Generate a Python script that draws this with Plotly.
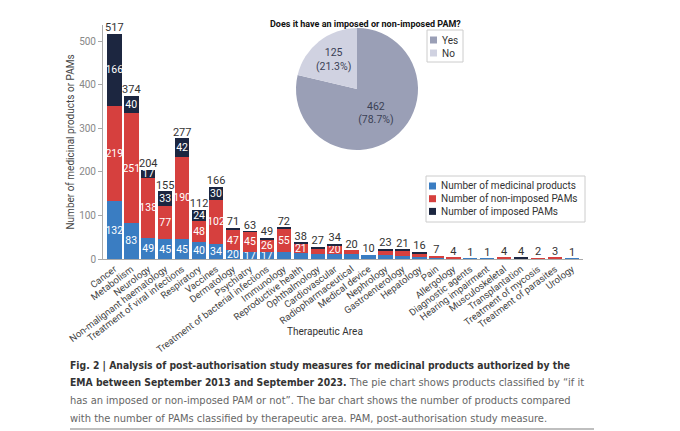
import plotly.graph_objects as go

areas = ["Cancer", "Metabolism", "Neurology", "Non-malignant haematology",
         "Treatment of viral infections", "Respiratory", "Vaccines", "Dermatology",
         "Psychiatry", "Treatment of bacterial infections", "Immunology",
         "Reproductive health", "Ophthalmology", "Cardiovascular",
         "Radiopharmaceutical", "Medical device", "Nephrology", "Gastroenterology",
         "Hepatology", "Pain", "Allergology", "Diagnostic agents",
         "Hearing impairment", "Musculoskeletal", "Transplantation",
         "Treatment of mycosis", "Treatment of parasites", "Urology"]
products = [132, 83, 49, 45, 45, 40, 34, 20, 17, 17, 15, 14, 12, 12, 11, 10, 9, 8, 5, 4, 1, 1, 1, 1, 1, 1, 1, 1]
non_imposed = [219, 251, 138, 77, 190, 48, 102, 47, 45, 26, 55, 21, 11, 20, 9, 0, 11, 12, 6, 3, 3, 0, 0, 3, 0, 1, 2, 0]
imposed = [166, 40, 17, 33, 42, 24, 30, 4, 1, 6, 2, 3, 4, 2, 0, 0, 3, 1, 5, 0, 0, 0, 0, 0, 3, 0, 0, 0]
totals = [517, 374, 204, 155, 277, 112, 166, 71, 63, 49, 72, 38, 27, 34, 20, 10, 23, 21, 16, 7, 4, 1, 1, 4, 4, 2, 3, 1]

pie_labels = ["Yes", "No"]
pie_values = [462, 125]
pie_colors = ["#9a9fb6", "#d0d2e1"]

series_names = ["Number of medicinal products", "Number of non-imposed PAMs", "Number of imposed PAMs"]
series_colors = ["#3a7dc2", "#d6403e", "#1c2640"]

FONT = "Roboto, sans-serif"
# the page body adds an 8px margin, so the figure is a bit smaller than the window
OFF = 8
W, H = 680 - OFF, 431 - OFF


def px(x, y):
    # window pixel position -> paper coordinates
    return (x - OFF) / W, 1 - (y - OFF) / H


def lbl(vals):
    # only the larger segments carry a number
    return [str(v) if v >= 17 else "" for v in vals]


fig = go.Figure()
for name, vals, col in zip(series_names, [products, non_imposed, imposed], series_colors):
    fig.add_trace(go.Bar(
        x=areas, y=vals, name=name, marker=dict(color=col, line=dict(width=0)),
        text=lbl(vals), textposition="inside", insidetextanchor="middle",
        constraintext="none", textangle=0,
        textfont=dict(color="white", size=10.5, family=FONT),
        showlegend=False, hoverinfo="skip"))

fig.add_trace(go.Scatter(
    x=areas, y=totals, mode="text", text=[str(t) for t in totals],
    textposition="top center", textfont=dict(color="#333333", size=11, family=FONT),
    showlegend=False, hoverinfo="skip", cliponaxis=False))

px0, py0 = px(296, 150)
px1, py1 = px(418, 28)
fig.add_trace(go.Pie(
    labels=pie_labels, values=pie_values, sort=False, direction="clockwise",
    marker=dict(colors=pie_colors, line=dict(width=0)),
    texttemplate="%{value}<br>(%{percent:.1%})", textposition="inside",
    insidetextorientation="horizontal",
    textfont=dict(color="#3a3f55", size=10.5, family=FONT),
    domain=dict(x=[px0, px1], y=[py0, py1]),
    showlegend=False, hoverinfo="skip"))

ax0, ay0 = px(103, 259)
ax1, ay1 = px(583, 25)
fig.update_layout(
    width=W, height=H, barmode="stack", bargap=0.15,
    paper_bgcolor="white", plot_bgcolor="white",
    margin=dict(l=0, r=0, t=0, b=0),
    font=dict(family=FONT, color="#444444"),
    xaxis=dict(domain=[ax0, ax1], range=[-0.67, 27.65], tickangle=-37,
               tickfont=dict(size=9.5, color="#444444"), showline=True,
               linecolor="#aaaaaa", linewidth=1, ticks="", showgrid=False,
               automargin=False),
    yaxis=dict(domain=[ay0, ay1], range=[0, 537],
               tickvals=[0, 100, 200, 300, 400, 500],
               tickfont=dict(size=10, color="#888888"), showline=True,
               linecolor="#aaaaaa", linewidth=1, ticks="outside", ticklen=4,
               tickcolor="#aaaaaa", showgrid=False, zeroline=False, automargin=False,
               title=dict(text="Number of medicinal products or PAMs",
                          font=dict(size=10, color="#444444"), standoff=2)),
)

x, y = px(325, 339)
fig.add_annotation(text="Therapeutic Area", x=x, y=y, xref="paper", yref="paper",
                   showarrow=False, font=dict(size=10, color="#333333", family=FONT))

x, y = px(365, 17)
fig.add_annotation(text="<b>Does it have an imposed or non-imposed PAM?</b>",
                   x=x, y=y, xref="paper", yref="paper",
                   showarrow=False, font=dict(size=9, color="#111111", family=FONT))


def legend_box(x0, y0, x1, y1, names, colors, first_y, step):
    a, b = px(x0, y0)
    c, d = px(x1, y1)
    fig.add_shape(type="rect", xref="paper", yref="paper", x0=a, y0=b, x1=c, y1=d,
                  line=dict(color="#cccccc", width=1), fillcolor="white")
    for i, (n, col) in enumerate(zip(names, colors)):
        yc = first_y + step * i
        a, b = px(x0 + 3, yc - 3.5)
        c, d = px(x0 + 10, yc + 3.5)
        fig.add_shape(type="rect", xref="paper", yref="paper", x0=a, y0=b, x1=c, y1=d,
                      line=dict(width=0), fillcolor=col)
        tx, ty = px(x0 + 13, yc)
        fig.add_annotation(text=n, x=tx, y=ty, xref="paper", yref="paper",
                           xanchor="left", yanchor="middle", showarrow=False,
                           font=dict(size=10, color="#333333", family=FONT))


legend_box(426, 176, 585, 222, series_names, series_colors, 186, 12.7)
legend_box(427, 30, 463, 62, pie_labels, pie_colors, 40, 13)

CAP = "DejaVu Sans Condensed, sans-serif"
BOLD = "<span style='font-size:10.3px'><b>%s</b></span>"
GREY = "<span style='color:#666666'>%s</span>"
caption = [
    BOLD % "Fig. 2 | Analysis of post-authorisation study measures for medicinal products authorized by the",
    BOLD % "EMA between September 2013 and September 2023." + " " + GREY % "The pie chart shows products classified by “if it",
    GREY % "has an imposed or non-imposed PAM or not”. The bar chart shows the number of products compared",
    GREY % "with the number of PAMs classified by therapeutic area. PAM, post-authorisation study measure.",
]
for i, line in enumerate(caption):
    x, y = px(68, 365 + 17.8 * i)
    fig.add_annotation(text=line, x=x, y=y, xref="paper", yref="paper",
                       xanchor="left", yanchor="middle", showarrow=False,
                       font=dict(size=11, color="#333333", family=CAP))

a, b = px(70, 429)
c, _ = px(594, 429)
fig.add_shape(type="line", xref="paper", yref="paper", x0=a, x1=c, y0=b, y1=b,
              line=dict(color="#aaaaaa", width=1.5))

fig.write_html("out.html")
